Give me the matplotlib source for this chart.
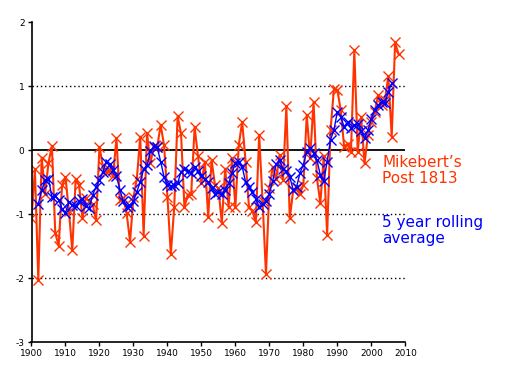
import matplotlib
matplotlib.use("Agg")
import matplotlib.pyplot as plt

years = list(range(1900, 2009))
annual = [
    -1.07, -0.30, -2.03, -0.12, -0.68, -0.20, 0.06, -1.30, -1.50, -0.55,
    -0.42, -0.95, -1.57, -0.45, -0.55, -1.07, -0.75, -0.80, -0.85, -1.10,
    0.05, -0.25, -0.35, -0.31, -0.40, 0.18, -0.78, -0.75, -0.99, -1.43,
    -0.74, -0.45, 0.21, -1.34, 0.26, -0.20, 0.05, 0.05, 0.39, 0.08,
    -0.73, -1.63, -0.89, 0.53, 0.26, -0.89, -0.70, -0.68, 0.36, -0.10,
    -0.52, -0.18, -1.04, -0.16, -0.55, -0.60, -1.14, -0.29, -0.89, -0.13,
    -0.89, 0.08, 0.44, -0.18, -0.89, -0.95, -1.13, 0.23, -0.80, -1.94,
    -0.60, -0.26, -0.45, -0.08, -0.47, 0.68, -1.07, -0.63, -0.60, -0.68,
    -0.55, 0.55, -0.13, 0.75, -0.44, -0.83, -0.10, -1.33, 0.31, 0.96,
    0.94, 0.62, 0.05, 0.10, -0.03, 1.56, -0.03, 0.52, -0.21, 0.23,
    0.44, 0.60, 0.86, 0.70, 0.78, 1.15, 0.21, 1.68, 1.50,
]

avg_years = list(range(1902, 2007))
rolling = [
    -0.84, -0.63, -0.47, -0.45, -0.73, -0.72, -0.78, -0.92,
    -0.98, -0.82, -0.86, -0.88, -0.80, -0.76, -0.88, -0.91, -0.70, -0.58,
    -0.47, -0.34, -0.18, -0.22, -0.31, -0.40, -0.62, -0.80, -0.89, -0.88,
    -0.80, -0.65, -0.50, -0.30, -0.24, -0.02, 0.06, 0.04, -0.18, -0.42,
    -0.55, -0.56, -0.54, -0.52, -0.34, -0.30, -0.33, -0.36, -0.27, -0.33,
    -0.40, -0.45, -0.50, -0.60, -0.68, -0.66, -0.68, -0.62, -0.52, -0.36,
    -0.20, -0.18, -0.26, -0.50, -0.58, -0.65, -0.76, -0.89, -0.85, -0.80,
    -0.68, -0.48, -0.22, -0.15, -0.30, -0.33, -0.42, -0.62, -0.58, -0.36,
    -0.23, -0.03, 0.03, -0.05, -0.16, -0.39, -0.49, -0.18, 0.16, 0.31,
    0.60, 0.52, 0.36, 0.44, 0.34, 0.39, 0.40, 0.30, 0.18, 0.31,
    0.49, 0.63, 0.70, 0.75, 0.73, 0.91, 1.04,
]

xticks = list(range(1900, 2011, 10))
yticks = [-3, -2, -1, 0, 1, 2]

ORANGE = "#ff3300"
BLUE = "#0000ff"

fig = plt.figure(figsize=(5.19, 3.69), dpi=100)
ax = fig.add_axes([31.5 / 519, 1 - 342 / 369, (405.3 - 31.5) / 519, 320 / 369])

for y in [1, -1, -2]:
    ax.axhline(y, color="black", lw=1, ls=(0, (1, 2)), zorder=1)
ax.axhline(0, color="black", lw=1.3, zorder=1)

ax.plot(years, annual, color=ORANGE, lw=1.5, marker="x", ms=7, mew=1.0, zorder=2)
ax.plot(avg_years, rolling, color=BLUE, lw=1.0, marker="x", ms=7, mew=1.0, zorder=3)

ax.set_xlim(1900, 2010)
ax.set_ylim(-3, 2)
ax.set_xticks(xticks)
ax.set_yticks(yticks)
ax.set_xticklabels([str(t) for t in xticks])
ax.set_yticklabels([str(t) for t in yticks])
ax.tick_params(axis="both", labelsize=6.5, length=3, width=1, direction="out", pad=2)
for s in ["top", "right"]:
    ax.spines[s].set_visible(False)
for s in ["left", "bottom"]:
    ax.spines[s].set_linewidth(1.2)

fig.text(382 / 519, 1 - 183 / 369, "Mikebert\u2019s\nPost 1813", color=ORANGE,
         fontsize=11, va="baseline", ha="left", linespacing=1.05)
fig.text(382 / 519, 1 - 243 / 369, "5 year rolling\naverage", color=BLUE,
         fontsize=11, va="baseline", ha="left", linespacing=1.05)

fig.savefig("out.png", dpi=100)
